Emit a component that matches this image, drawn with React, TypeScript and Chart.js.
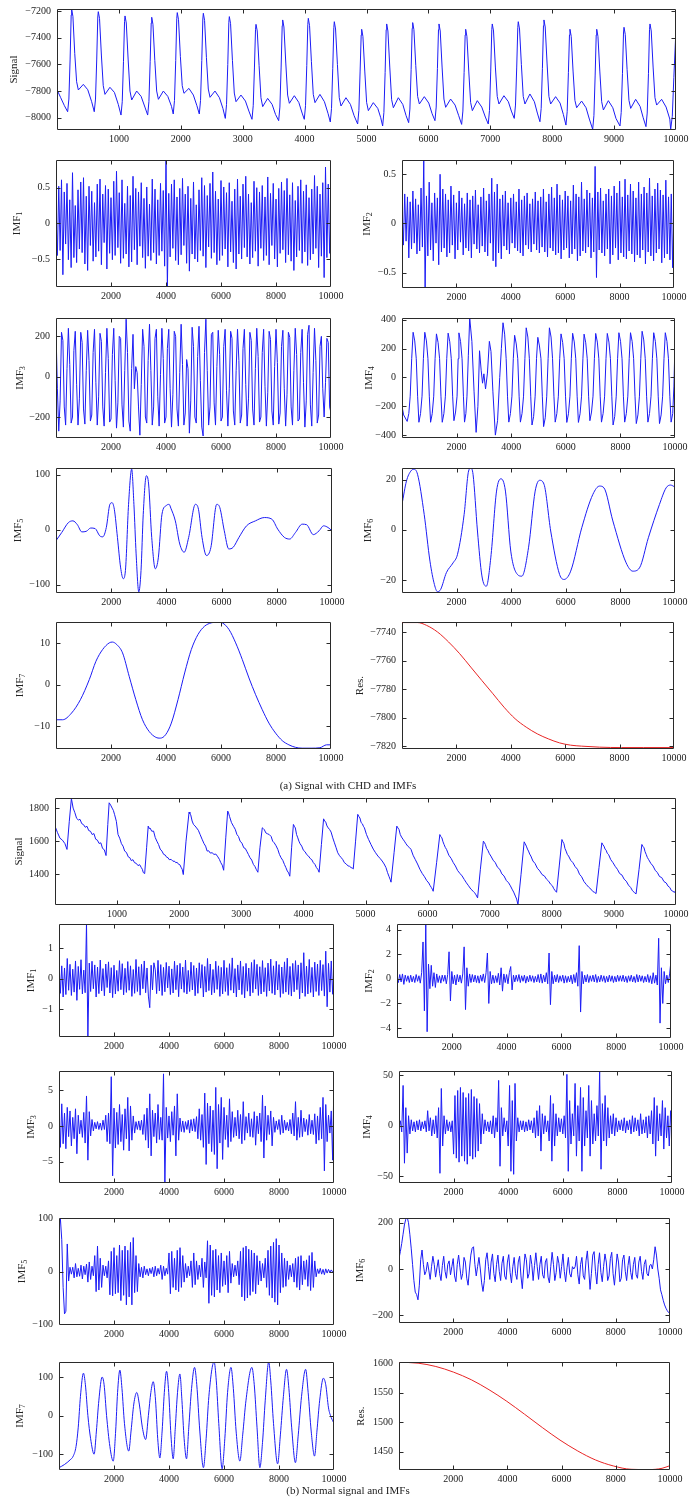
import React, { useEffect, useRef } from "react";
import { Chart, registerables } from "chart.js";
Chart.register(...registerables);

const FONT = '"Liberation Serif", "DejaVu Serif", serif';
const BLUE = "rgb(28,28,245)";
const RED = "rgb(232,36,36)";
const STEP = 50;

// ---------- tick labels ----------
const xTicksSignal = [1000, 2000, 3000, 4000, 5000, 6000, 7000, 8000, 9000, 10000];
const xTicksImf = [2000, 4000, 6000, 8000, 10000];

// ---------- (a) Signal with CHD ----------
const signalA: [number, number][] = [
  [0,-7790],[60,-7850],[120,-7910],
  [172,-7955],[192,-7860],[212,-7560],[229,-7230],[237,-7188],[257,-7240],[287,-7520],[317,-7730],[345,-7792],[425,-7750],[497,-7790],[560,-7880],
  [602,-7955],[622,-7860],[642,-7560],[659,-7245],[667,-7205],[687,-7255],[717,-7530],[747,-7760],[775,-7825],[855,-7772],[927,-7810],[990,-7900],
  [1034,-7980],[1054,-7880],[1074,-7580],[1091,-7280],[1099,-7237],[1119,-7290],[1149,-7560],[1179,-7800],[1207,-7867],[1287,-7800],[1359,-7840],[1420,-7920],
  [1465,-7980],[1485,-7880],[1505,-7580],[1522,-7290],[1530,-7247],[1550,-7300],[1580,-7570],[1610,-7800],[1638,-7862],[1718,-7800],[1790,-7840],[1850,-7915],
  [1878,-7972],[1898,-7870],[1918,-7570],[1935,-7255],[1943,-7212],[1963,-7265],[1993,-7540],[2023,-7760],[2051,-7817],[2131,-7780],[2203,-7830],[2260,-7910],
  [2299,-7972],[2319,-7870],[2339,-7570],[2356,-7260],[2364,-7217],[2384,-7270],[2414,-7550],[2444,-7785],[2472,-7847],[2552,-7800],[2624,-7850],[2680,-7930],
  [2719,-8005],[2739,-7900],[2759,-7600],[2776,-7285],[2784,-7242],[2804,-7295],[2834,-7570],[2864,-7815],[2892,-7880],[2972,-7830],[3044,-7875],[3100,-7950],
  [3150,-8012],[3170,-7910],[3190,-7620],[3207,-7340],[3215,-7300],[3235,-7350],[3265,-7610],[3295,-7850],[3323,-7917],[3403,-7855],[3475,-7900],[3530,-7975],
  [3581,-8022],[3601,-7920],[3621,-7620],[3638,-7310],[3646,-7267],[3666,-7320],[3696,-7590],[3726,-7830],[3754,-7892],[3834,-7835],[3906,-7885],[3960,-7965],
  [3995,-8012],[4015,-7910],[4035,-7610],[4052,-7300],[4060,-7255],[4080,-7310],[4110,-7580],[4140,-7825],[4168,-7887],[4248,-7825],[4320,-7880],[4380,-7970],
  [4415,-8032],[4435,-7930],[4455,-7630],[4472,-7325],[4480,-7280],[4500,-7335],[4530,-7600],[4560,-7850],[4588,-7912],[4668,-7850],[4740,-7900],[4800,-7985],
  [4857,-8047],[4877,-7945],[4897,-7650],[4914,-7380],[4922,-7337],[4942,-7390],[4972,-7650],[5002,-7885],[5030,-7947],[5110,-7887],[5182,-7930],[5230,-8000],
  [5261,-8062],[5281,-7960],[5301,-7660],[5318,-7340],[5326,-7297],[5346,-7350],[5376,-7620],[5406,-7865],[5434,-7925],[5514,-7850],[5586,-7900],[5640,-7985],
  [5681,-8037],[5701,-7935],[5721,-7640],[5738,-7330],[5746,-7287],[5766,-7340],[5796,-7610],[5826,-7840],[5854,-7897],[5934,-7842],[6006,-7890],[6060,-7970],
  [6106,-8022],[6126,-7920],[6146,-7630],[6163,-7340],[6171,-7297],[6191,-7350],[6221,-7620],[6251,-7860],[6279,-7922],[6359,-7860],[6431,-7905],[6490,-7985],
  [6537,-8050],[6557,-7950],[6577,-7660],[6594,-7380],[6602,-7337],[6622,-7390],[6652,-7650],[6682,-7885],[6710,-7947],[6790,-7872],[6862,-7920],[6920,-7995],
  [6967,-8047],[6987,-7945],[7007,-7650],[7024,-7340],[7032,-7297],[7052,-7350],[7082,-7620],[7112,-7840],[7140,-7897],[7220,-7835],[7292,-7880],[7340,-7950],
  [7387,-8005],[7407,-7905],[7427,-7620],[7444,-7325],[7452,-7280],[7472,-7335],[7502,-7600],[7532,-7840],[7560,-7897],[7640,-7822],[7712,-7880],[7760,-7965],
  [7802,-8030],[7822,-7930],[7842,-7630],[7859,-7310],[7867,-7267],[7887,-7320],[7917,-7590],[7947,-7840],[7975,-7897],[8055,-7842],[8127,-7890],[8180,-7975],
  [8222,-8055],[8242,-7955],[8262,-7660],[8279,-7380],[8287,-7337],[8307,-7390],[8337,-7650],[8367,-7870],[8395,-7925],[8475,-7875],[8547,-7925],[8600,-8010],
  [8654,-8087],[8674,-7985],[8694,-7680],[8711,-7380],[8719,-7337],[8739,-7390],[8769,-7650],[8799,-7880],[8827,-7942],[8907,-7872],[8979,-7925],[9030,-8005],
  [9095,-8062],[9115,-7960],[9135,-7670],[9152,-7365],[9160,-7322],[9180,-7375],[9210,-7640],[9240,-7870],[9268,-7930],[9348,-7862],[9420,-7915],[9470,-8000],
  [9515,-8067],[9535,-7965],[9555,-7670],[9572,-7340],[9580,-7297],[9600,-7350],[9630,-7620],[9660,-7850],[9688,-7905],[9768,-7862],[9840,-7920],[9900,-8010],
  [9914,-8087],[9940,-7990],[9965,-7700],[10000,-7330]
];

const imf1A = [
  0.12,-0.45,0.52,-0.38,0.61,-0.72,0.44,-0.29,0.56,-0.51,
  0.33,-0.62,0.71,-0.48,0.25,-0.55,0.47,-0.36,0.58,-0.41,
  0.64,-0.57,0.38,-0.66,0.52,-0.31,0.45,-0.53,0.29,-0.47,
  0.55,-0.39,0.62,-0.58,0.41,-0.27,0.53,-0.64,0.48,-0.42,
  0.36,-0.51,0.59,-0.45,0.73,-0.34,0.43,-0.56,0.61,-0.49,
  0.28,-0.43,0.52,-0.61,0.39,-0.54,0.66,-0.37,0.49,-0.58,
  0.44,-0.32,0.57,-0.48,0.35,-0.63,0.51,-0.46,0.27,-0.52,
  0.62,-0.41,0.48,-0.57,0.33,-0.45,0.56,-0.39,0.46,-0.6,
  0.89,-0.89,0.42,-0.47,0.55,-0.35,0.61,-0.52,0.37,-0.58,
  0.49,-0.44,0.63,-0.31,0.41,-0.56,0.52,-0.67,0.35,-0.43,
  0.58,-0.5,0.26,-0.54,0.47,-0.38,0.64,-0.46,0.53,-0.62,
  0.39,-0.33,0.56,-0.49,0.72,-0.41,0.45,-0.58,0.34,-0.52,
  0.6,-0.45,0.51,-0.36,0.43,-0.61,0.57,-0.4,0.31,-0.55,
  0.48,-0.64,0.62,-0.43,0.38,-0.5,0.55,-0.34,0.66,-0.47,
  0.41,-0.57,0.29,-0.48,0.59,-0.39,0.5,-0.6,0.44,-0.35,
  0.53,-0.52,0.37,-0.45,0.65,-0.58,0.42,-0.31,0.56,-0.5,
  0.34,-0.61,0.49,-0.42,0.58,-0.37,0.46,-0.55,0.63,-0.44,
  0.4,-0.53,0.57,-0.66,0.32,-0.47,0.52,-0.38,0.61,-0.56,
  0.45,-0.4,0.54,-0.59,0.36,-0.51,0.48,-0.43,0.67,-0.35,
  0.52,-0.62,0.41,-0.46,0.57,-0.76,0.79,-0.48,0.55,-0.42,
  0.1
];

const imf2A = [
  0.15,-0.22,0.3,-0.18,0.27,-0.35,0.22,-0.26,0.33,-0.2,
  0.25,-0.31,0.19,-0.28,0.36,-0.24,0.64,-0.66,0.28,-0.33,
  0.42,-0.27,0.21,-0.38,0.31,-0.2,0.26,-0.42,0.5,-0.29,
  0.35,-0.25,0.3,-0.34,0.24,-0.3,0.38,-0.22,0.29,-0.36,
  0.21,-0.27,0.33,-0.19,0.26,-0.32,0.2,-0.25,0.31,-0.28,
  0.24,-0.35,0.28,-0.21,0.34,-0.26,0.19,-0.3,0.27,-0.23,
  0.36,-0.29,0.23,-0.33,0.3,-0.2,0.46,-0.38,0.32,-0.44,
  0.4,-0.3,0.25,-0.36,0.29,-0.23,0.33,-0.27,0.21,-0.31,
  0.26,-0.2,0.3,-0.25,0.22,-0.28,0.35,-0.3,0.24,-0.33,
  0.28,-0.22,0.31,-0.26,0.2,-0.29,0.25,-0.21,0.32,-0.27,
  0.23,-0.3,0.27,-0.24,0.35,-0.29,0.22,-0.34,0.3,-0.25,
  0.37,-0.28,0.26,-0.32,0.4,-0.3,0.29,-0.36,0.24,-0.27,
  0.33,-0.25,0.28,-0.35,0.23,-0.31,0.39,-0.26,0.3,-0.38,
  0.27,-0.33,0.42,-0.28,0.25,-0.3,0.34,-0.24,0.31,-0.35,
  0.26,-0.29,0.58,-0.55,0.32,-0.27,0.36,-0.3,0.23,-0.33,
  0.3,-0.26,0.35,-0.41,0.28,-0.32,0.38,-0.25,0.31,-0.37,
  0.43,-0.3,0.27,-0.34,0.45,-0.36,0.29,-0.28,0.4,-0.31,
  0.33,-0.39,0.26,-0.32,0.42,-0.35,0.3,-0.27,0.37,-0.41,
  0.31,-0.29,0.46,-0.33,0.28,-0.38,0.35,-0.3,0.41,-0.26,
  0.34,-0.4,0.29,-0.35,0.44,-0.31,0.27,-0.37,0.3,-0.45,
  0.12
];

const imf3A = [
  230,-60,-270,-120,220,180,-150,-240,40,240,
  60,-230,-200,130,225,-40,-240,-110,220,170,
  -160,-235,30,230,80,-220,-190,120,235,-30,
  -240,-100,215,175,-150,-245,20,240,90,-225,
  -210,110,240,-20,-255,-130,200,190,-140,-250,
  30,285,120,-220,-270,40,210,-60,50,20,
  -150,-290,-40,235,150,-200,-230,80,260,30,
  -240,-150,190,235,-100,-245,10,240,90,-230,
  -200,140,235,-60,-250,-90,225,200,-160,-245,
  20,260,60,-240,-180,85,40,-280,-120,245,
  150,-200,-230,100,250,-20,-250,-294,120,285,
  30,-240,-150,210,220,-130,-240,50,230,110,
  -220,-200,150,235,-70,-245,-60,225,190,-170,
  -240,30,235,80,-230,-190,140,235,-40,-245,
  -110,220,180,-160,-240,40,240,100,-225,-200,
  120,235,-50,-245,-80,225,185,-170,-240,50,
  235,70,-235,-180,150,230,-60,-245,-90,220,
  195,-150,-240,30,240,110,-220,-210,120,235,
  -30,-250,-120,210,255,-140,-245,20,240,80,
  -230,-190,150,200,-60,-200,-30,190,170,-150,
  -180
];

const imf4A: [number, number][] = [
  [0,-200],[60,-260],[190,-305],[250,-250],[300,-130],[355,130],
  [407,313],[467,253],[522,130],[572,-130],[619,-311],[679,-251],[734,-130],[784,130],
  [835,313],[895,253],[950,130],[1000,-130],[1047,-311],[1107,-251],[1162,-130],[1212,130],
  [1262,302],[1322,242],[1377,130],[1427,-130],[1474,-311],[1534,-251],[1589,-130],[1639,130],
  [1690,307],[1750,247],[1805,130],[1855,-130],[1902,-300],[1962,-240],[2017,-130],[2057,130],
  [2085,309],[2145,249],[2200,130],[2250,-130],[2290,-310],[2340,-250],[2380,-130],[2430,150],
  [2480,412],[2560,250],[2640,-100],[2715,-381],[2780,-200],[2840,185],[2900,50],[2950,-40],[3000,25],[3060,-80],[3130,30],[3200,250],[3260,180],[3330,-100],[3420,-400],[3500,-300],[3580,0],[3640,200],
  [3700,379],[3760,300],[3815,130],[3865,-130],[3912,-310],[3972,-250],[4027,-130],[4077,130],
  [4125,292],[4185,232],[4240,130],[4290,-130],[4337,-310],[4397,-250],[4452,-130],[4502,130],
  [4550,344],[4610,280],[4665,130],[4715,-130],[4762,-330],[4822,-270],[4877,-130],[4927,130],
  [4975,278],[5035,218],[5090,130],[5140,-130],[5187,-341],[5247,-280],[5302,-130],[5352,130],
  [5400,344],[5460,280],[5515,130],[5565,-130],[5612,-310],[5672,-250],[5727,-130],[5777,130],
  [5825,302],[5885,242],[5940,130],[5990,-130],[6037,-312],[6097,-252],[6152,-130],[6202,130],
  [6250,306],[6310,246],[6365,130],[6415,-130],[6462,-312],[6522,-252],[6577,-130],[6627,130],
  [6670,300],[6730,240],[6785,130],[6835,-130],[6882,-300],[6942,-240],[6997,-130],[7047,130],
  [7095,305],[7155,245],[7210,130],[7260,-130],[7307,-310],[7367,-250],[7422,-130],[7472,130],
  [7520,305],[7580,245],[7635,130],[7685,-130],[7732,-330],[7792,-270],[7847,-130],[7897,130],
  [7945,310],[8005,250],[8060,130],[8110,-130],[8157,-310],[8217,-250],[8272,-130],[8322,130],
  [8370,310],[8430,250],[8485,130],[8535,-130],[8582,-320],[8642,-260],[8697,-130],[8747,130],
  [8795,320],[8855,260],[8910,130],[8960,-130],[9007,-310],[9067,-250],[9122,-130],[9172,130],
  [9220,310],[9280,250],[9335,130],[9385,-130],[9432,-320],[9492,-260],[9547,-130],[9597,130],
  [9645,310],[9705,250],[9760,130],[9810,-130],[9857,-310],[9917,-250],[9960,-60],[10000,250]
];

const imf5A: [number, number][] = [
  [0,-20],[210,-5],[452,13],[613,16],[774,9],[936,-4],[1097,-3],[1258,3],[1419,2],[1581,-11],[1694,-13],[1823,4],
  [1952,46],[2032,49],[2113,37],[2226,-14],[2339,-68],[2436,-89],[2516,-74],[2629,46],[2742,110],[2823,46],[2903,-44],
  [3000,-113],[3081,-74],[3161,28],[3274,98],[3355,83],[3468,-14],[3597,-71],[3710,-50],[3839,28],[4000,44],[4100,46],
  [4162,39],[4323,16],[4484,-26],[4645,-41],[4807,-14],[5049,46],[5162,37],[5291,-14],[5452,-47],[5613,-32],[5823,46],
  [5936,40],[6097,-2],[6258,-35],[6420,-32],[6629,-14],[6904,7],[7226,16],[7549,22],[7823,19],[8033,1],[8275,-14],
  [8468,-17],[8678,-5],[8920,10],[9081,9],[9323,-9],[9533,-2],[9694,7],[9855,4],[10000,-2]
];

const imf6A: [number, number][] = [
  [0,10.1],[163,19.4],[325,23.4],[439,24.1],[569,22.1],[813,6.1],[1024,-12.5],[1187,-21.8],[1301,-24.7],[1415,-23.8],
  [1626,-17.1],[1870,-13.2],[2033,-9.8],[2276,6.1],[2439,23.4],[2520,24.5],[2602,22.1],[2764,-0.5],[2927,-18.4],[3089,-22.5],
  [3252,-11.2],[3463,15.4],[3626,20.3],[3789,15.4],[3984,-8.5],[4228,-17.8],[4390,-18.5],[4634,-7.2],[4878,15.4],[5041,19.7],
  [5203,18.1],[5447,-0.5],[5772,-17.8],[5935,-19.8],[6179,-16.5],[6585,0.8],[6992,14.1],[7236,17.4],[7398,16.7],[7724,3.5],
  [8211,-13.2],[8455,-16.5],[8699,-15.2],[9024,-3.2],[9431,10.1],[9675,16.7],[9837,17.8],[10000,17.0]
];

const imf7A: [number, number][] = [
  [0,-8.4],[242,-8.4],[565,-6.8],[887,-3.6],[1210,1.2],[1452,5.6],[1694,8.4],[1936,10.0],[2048,10.2],[2210,9.6],
  [2420,7.6],[2661,2.0],[2903,-3.6],[3145,-8.4],[3387,-11.2],[3629,-12.6],[3790,-12.8],[3984,-12.0],[4194,-9.2],[4436,-3.6],
  [4678,2.8],[4920,8.4],[5162,12.0],[5404,14.0],[5646,14.8],[5888,15.0],[6049,14.8],[6291,13.2],[6533,10.0],[6775,6.0],
  [7017,1.6],[7259,-2.4],[7501,-6.0],[7743,-9.2],[7985,-11.6],[8227,-13.4],[8468,-14.4],[8710,-15.0],[8952,-15.2],[9275,-15.2],
  [9597,-15.1],[9839,-14.4],[10000,-14.4]
];

const resA: [number, number][] = [
  [0,-7733.4],[571,-7733.4],[897,-7735.3],[1305,-7740],[1713,-7747],[2120,-7755.2],[2528,-7764.6],[2936,-7774],[3344,-7783.3],
  [3751,-7792.7],[4159,-7800.8],[4567,-7806.7],[4975,-7811.4],[5382,-7814.9],[5790,-7817.7],[6198,-7819.3],[6606,-7820],
  [7258,-7820.7],[8073,-7821],[8889,-7821],[10000,-7821]
];

// ---------- (b) Normal signal ----------
const signalB: [number, number][] = [
  [0,1691],[40,1652],[80,1618],[120,1606],[160,1585],[193,1550],
  [230,1720],[264,1858],[292,1800],[320,1772],[348,1738],[376,1728],[403,1732],[431,1706],[459,1700],[487,1684],[515,1690],[543,1664],[571,1660],[599,1640],[627,1646],[655,1612],[683,1606],[710,1586],[738,1590],[766,1556],[794,1548],[822,1513],
  [850,1700],[872,1832],[896,1818],[920,1800],[940,1786],[960,1760],[988,1720],[1015,1640],[1042,1618],[1070,1585],[1096,1570],[1122,1540],[1150,1532],[1180,1505],[1205,1500],[1229,1482],[1255,1488],[1280,1470],[1308,1466],[1337,1452],[1363,1458],[1390,1440],[1406,1430],[1422,1410],[1444,1404],
  [1475,1560],[1501,1691],[1515,1676],[1530,1680],[1558,1660],[1587,1661],[1614,1622],[1640,1600],[1667,1580],[1694,1552],[1722,1540],[1750,1520],[1775,1516],[1800,1502],[1820,1500],[1840,1488],[1870,1490],[1900,1478],[1922,1480],[1944,1470],[1967,1472],[1990,1460],[2010,1458],[2030,1442],[2048,1430],[2066,1398],
  [2110,1600],[2159,1776],[2172,1765],[2185,1760],[2208,1722],[2230,1701],[2255,1692],[2280,1680],[2308,1666],[2337,1640],[2368,1612],[2400,1585],[2425,1570],[2450,1540],[2475,1542],[2500,1528],[2530,1530],[2560,1520],[2590,1522],[2623,1505],[2647,1490],[2670,1470],[2693,1455],[2716,1424],
  [2750,1620],[2781,1782],[2795,1770],[2810,1750],[2842,1712],[2874,1690],[2902,1672],[2930,1640],[2955,1628],[2981,1600],[3010,1588],[3040,1560],[3064,1556],[3088,1539],[3114,1520],[3140,1500],[3168,1486],[3195,1459],[3218,1448],[3240,1430],[3267,1412],
  [3300,1560],[3338,1681],[3354,1676],[3370,1670],[3395,1650],[3420,1645],[3450,1640],[3481,1628],[3505,1600],[3530,1590],[3560,1572],[3588,1550],[3614,1520],[3640,1500],[3668,1484],[3695,1459],[3718,1440],[3740,1420],[3762,1408],[3781,1388],
  [3810,1560],[3839,1701],[3855,1690],[3870,1680],[3890,1640],[3910,1620],[3928,1600],[3946,1585],[3973,1570],[4000,1545],[4027,1536],[4053,1519],[4082,1510],[4110,1495],[4135,1488],[4160,1470],[4185,1460],[4210,1440],[4232,1430],[4253,1412],
  [4290,1580],[4325,1735],[4343,1722],[4360,1715],[4380,1692],[4400,1680],[4423,1670],[4446,1655],[4473,1620],[4500,1590],[4527,1560],[4553,1530],[4582,1512],[4610,1500],[4635,1488],[4660,1470],[4690,1462],[4720,1450],[4744,1448],[4768,1440],[4786,1438],[4803,1432],
  [4840,1600],[4875,1762],[4892,1750],[4910,1740],[4930,1712],[4950,1705],[4966,1690],[4982,1681],[5016,1640],[5050,1610],[5088,1580],[5125,1552],[5162,1530],[5200,1510],[5234,1496],[5268,1480],[5300,1462],[5330,1440],[5355,1410],[5380,1385],[5396,1370],[5411,1352],
  [5460,1530],[5504,1691],[5522,1680],[5540,1670],[5560,1640],[5580,1625],[5603,1612],[5626,1600],[5653,1584],[5680,1570],[5706,1562],[5733,1550],[5766,1515],[5800,1490],[5838,1462],[5876,1430],[5913,1405],[5950,1385],[5985,1362],[6019,1347],[6040,1332],[6060,1320],[6075,1310],[6090,1297],
  [6145,1470],[6197,1640],[6213,1628],[6230,1620],[6248,1596],[6265,1580],[6285,1562],[6305,1550],[6342,1515],[6380,1495],[6414,1470],[6448,1450],[6484,1422],[6520,1405],[6555,1390],[6591,1368],[6625,1348],[6660,1330],[6697,1310],[6734,1297],[6757,1288],[6780,1275],[6805,1257],
  [6850,1430],[6898,1600],[6914,1592],[6930,1580],[6950,1556],[6970,1545],[6995,1524],[7019,1510],[7055,1485],[7090,1470],[7126,1442],[7162,1430],[7196,1402],[7230,1390],[7268,1362],[7305,1348],[7333,1330],[7360,1310],[7386,1292],[7413,1268],[7434,1250],[7455,1216],
  [7505,1400],[7555,1596],[7572,1584],[7590,1570],[7608,1552],[7625,1540],[7644,1522],[7663,1510],[7696,1480],[7730,1465],[7768,1436],[7806,1420],[7843,1398],[7880,1390],[7915,1370],[7949,1358],[7980,1340],[8010,1330],[8033,1312],[8056,1300],[8077,1291],
  [8120,1450],[8163,1610],[8179,1596],[8195,1585],[8212,1556],[8230,1540],[8250,1520],[8270,1510],[8305,1484],[8340,1470],[8376,1446],[8413,1430],[8446,1400],[8480,1385],[8518,1356],[8556,1338],[8593,1322],[8630,1310],[8660,1296],[8690,1290],[8713,1283],
  [8760,1440],[8806,1590],[8823,1578],[8840,1570],[8858,1552],[8875,1545],[8894,1526],[8913,1520],[8950,1488],[8985,1470],[9020,1448],[9056,1430],[9093,1404],[9130,1395],[9165,1370],[9199,1358],[9235,1334],[9270,1320],[9300,1300],[9328,1290],[9357,1281],
  [9405,1430],[9450,1580],[9468,1568],[9485,1560],[9502,1536],[9520,1520],[9538,1502],[9557,1490],[9594,1466],[9630,1450],[9665,1424],[9700,1410],[9735,1386],[9770,1380],[9806,1356],[9843,1347],[9872,1328],[9900,1320],[9925,1302],[9950,1297],[9975,1290],[10000,1307]
];

const imf1B = [
  0.55,-0.48,0.42,-0.6,0.35,-0.52,0.66,-0.38,0.47,-0.55,
  0.31,-0.44,0.58,-0.71,0.4,-0.35,0.62,-0.5,0.28,-0.46,
  1.8,-1.9,0.51,-0.42,0.57,-0.33,0.45,-0.6,0.38,-0.49,
  0.61,-0.4,0.33,-0.56,0.48,-0.29,0.55,-0.47,0.36,-0.62,
  0.44,-0.5,0.27,-0.41,0.59,-0.36,0.49,-0.53,0.34,-0.45,
  0.56,-0.38,0.42,-0.58,0.3,-0.48,0.63,-0.42,0.39,-0.54,
  0.47,-0.33,0.58,-0.46,0.35,-0.57,-0.95,0.44,-0.37,0.52,
  0.29,-0.49,0.6,-0.4,0.46,-0.55,0.37,-0.43,0.53,-0.3,
  0.41,-0.52,0.32,-0.47,0.57,-0.36,0.44,-0.59,0.5,-0.34,
  0.38,-0.45,0.61,-0.5,0.27,-0.42,0.54,-0.37,0.43,-0.56,
  0.35,-0.48,0.52,-0.31,0.46,-0.6,0.4,-0.44,0.66,-0.39,
  0.48,-0.53,0.3,-0.46,0.57,-0.35,0.42,-0.58,0.37,-0.5,
  0.6,-0.42,0.36,-0.55,0.49,-0.38,0.68,-0.47,0.33,-0.6,
  0.45,-0.37,0.58,-0.52,0.4,-0.63,0.5,-0.41,0.35,-0.57,
  0.53,-0.46,0.62,-0.34,0.47,-0.55,0.39,-0.5,0.59,-0.43,
  0.36,-0.58,0.51,-0.4,0.64,-0.48,0.42,-0.53,0.57,-0.37,
  0.46,-0.61,0.38,-0.49,0.55,-0.44,0.67,-0.52,0.4,-0.57,
  0.5,-0.43,0.59,-0.36,0.45,-0.66,0.52,-0.47,0.85,-0.58,
  0.41,-0.5,0.63,-0.45,0.37,-0.6,0.54,-0.42,0.48,-0.55,
  0.6,-0.39,0.46,-0.57,0.9,-0.92,0.5,-0.44,0.58,-0.51,
  0.3
];

const imf2B = [
  0.2,-0.3,0.35,-0.25,0.4,-0.45,0.3,-0.2,0.25,-0.3,
  0.3,-0.25,0.2,-0.3,0.35,-0.2,0.25,-0.35,0.5,3.0,
  -2.6,4.46,-4.3,1.2,-0.8,1.1,-0.6,0.5,-0.7,0.4,
  -0.3,0.25,-0.35,0.3,-0.2,0.3,-0.4,0.35,2.2,-1.8,
  0.6,-0.4,0.3,-0.5,0.35,-0.25,0.3,-0.35,0.4,2.6,
  -2.5,0.9,-0.6,0.4,-0.3,0.35,-0.25,0.3,-0.3,0.25,
  -0.35,0.3,-0.2,0.4,-0.3,0.5,2.1,-2.0,0.6,-0.4,
  0.3,-0.35,0.25,-0.3,0.45,-0.5,0.9,-1.0,0.4,-0.3,
  0.35,-0.4,0.5,1.0,-0.9,0.3,-0.25,0.3,-0.2,0.35,
  -0.3,0.25,-0.2,0.3,-0.35,0.2,-0.25,0.3,-0.2,0.25,
  -0.3,0.2,-0.25,0.35,-0.3,0.4,-0.35,0.3,-0.25,0.5,
  -0.4,2.1,-2.1,0.6,-0.4,0.3,-0.25,0.35,-0.3,0.25,
  -0.2,0.3,-0.35,0.25,-0.3,0.2,-0.25,0.3,-0.4,0.35,
  -0.3,0.5,-0.6,2.7,-2.7,0.6,-0.4,0.3,-0.25,0.35,
  -0.3,0.25,-0.2,0.3,-0.25,0.35,-0.3,0.2,-0.25,0.3,
  -0.2,0.25,-0.3,0.2,-0.25,0.3,-0.2,0.25,-0.3,0.2,
  -0.25,0.3,-0.2,0.25,-0.2,0.3,-0.25,0.2,-0.3,0.25,
  -0.2,0.3,-0.25,0.2,-0.3,0.35,-0.25,0.3,-0.2,0.25,
  -0.3,0.2,-0.25,0.35,-0.3,0.25,-0.4,0.5,-0.35,0.3,
  -0.5,3.3,-3.6,0.9,-2.0,0.6,-0.4,0.3,-0.3,0.4,
  1.5
];

const imf3B = [
  2.0,-3.0,3.1,-2.5,1.8,-3.2,2.6,-1.5,2.1,-2.8,
  1.2,-1.8,2.4,-3.9,1.5,-1.1,0.8,-1.6,1.9,-2.4,
  4.2,-4.8,2.0,-1.4,0.9,-0.7,0.5,-0.4,0.6,-0.5,
  0.4,-0.6,0.8,-0.5,1.5,-2.2,1.8,-2.5,6.9,-7.0,
  2.5,-3.1,1.9,-2.6,3.0,-2.2,1.6,-3.4,2.4,-1.8,
  4.0,-3.5,2.8,-2.0,1.4,-1.0,0.6,-0.5,0.7,-0.6,
  0.8,-1.2,1.6,-2.0,2.5,-3.1,4.5,-4.2,2.2,-1.5,
  1.8,-2.4,3.0,-1.9,1.2,-2.0,7.3,-8.0,2.6,-1.7,
  1.4,-2.2,2.0,-1.3,2.8,-4.2,4.5,-2.0,1.1,-0.8,
  0.7,-0.9,0.6,-0.5,0.8,-1.0,0.9,-0.7,1.0,-0.8,
  1.3,-1.8,2.4,-2.0,1.6,-3.0,4.6,-5.4,3.2,-2.5,
  2.8,-3.6,2.2,-4.0,5.4,-6.0,3.0,-2.4,4.0,-4.7,
  2.6,-1.9,1.5,-3.0,3.8,-2.2,2.0,-1.6,1.2,-1.4,
  2.2,-1.8,1.6,-2.5,3.4,-2.0,1.3,-1.0,1.8,-1.5,
  1.0,-1.6,2.0,-2.7,1.4,-1.1,1.8,-2.2,4.3,-4.5,
  2.8,-2.0,1.5,-1.2,2.1,-2.8,1.2,-0.9,0.7,-0.5,
  0.9,-1.2,1.5,-1.0,0.8,-0.6,0.5,-0.7,0.9,-1.1,
  1.8,-1.4,3.4,-2.0,1.2,-1.6,2.2,-1.5,1.1,-0.8,
  0.9,-1.3,1.6,-1.1,0.8,-1.2,1.7,-2.5,1.4,-2.0,
  2.6,-1.8,4.0,-6.3,3.0,-2.2,1.5,-1.0,2.1,-4.8,
  7.3
];

const imf4B = [
  -3,5,-6,40,-37,18,-27,10,-8,6,
  -5,4,-6,5,-4,6,-5,4,-3,5,
  -6,15,-5,8,-10,6,-8,10,-12,18,
  -47,37,-20,10,-8,6,-5,4,-6,5,
  -28,30,-32,35,-36,38,-30,33,-35,28,
  -38,32,-30,36,-33,29,-31,27,-25,22,
  -18,12,-8,6,-5,4,-6,5,-8,10,
  -12,8,-6,45,-40,18,-10,8,-6,5,
  -20,40,-45,25,-48,42,-15,8,-6,5,
  -4,5,-6,4,-5,6,-4,5,-7,8,
  -12,15,-10,20,-25,12,-8,10,-6,5,
  -15,30,-35,22,-20,12,-10,8,-6,7,
  -8,10,-12,51,-45,25,-18,12,-10,42,
  -30,20,-15,38,-45,28,-20,15,-12,40,
  -30,25,-18,12,-15,20,-10,54,-43,22,
  -15,30,-20,18,-12,10,-8,12,-10,8,
  -6,5,-4,6,-5,8,-7,5,-4,6,
  -8,10,-6,8,-5,6,-10,12,-8,6,
  -7,9,-12,10,-8,15,-18,28,-30,20,
  -15,12,-10,25,-23,18,-12,10,-20,15,
  -8
];

const imf5B = [
  83,100,60,-30,-80,-75,52,-18,8,-5,
  8,-12,15,-10,6,-9,12,-14,10,-6,
  14,-20,18,-15,10,-8,30,-38,48,-35,
  25,-30,12,-8,10,-12,20,-44,38,-46,
  45,-42,30,-40,50,-55,40,-45,48,-63,
  40,-48,55,-63,64,-40,30,-38,15,-10,
  8,-12,10,-6,5,-8,6,-4,8,-10,
  10,-8,6,-5,12,-15,10,-8,6,-5,
  35,-42,38,-30,25,-35,40,-38,45,-30,
  30,-20,15,-12,10,-8,20,-30,35,-25,
  20,-15,12,-10,25,-30,18,-12,58,-60,
  50,-45,40,-48,42,-35,30,-40,35,-28,
  20,-25,30,-40,38,-22,15,-10,12,-8,
  20,-25,38,-48,45,-55,48,-50,42,-45,
  40,-38,35,-42,30,-25,20,-18,15,-12,
  25,-30,40,-45,48,-50,55,-58,62,-63,
  50,-40,35,-30,25,-28,20,-15,12,-10,
  15,-20,25,-30,28,-35,30,-25,20,-15,
  22,-28,30,-36,36,-30,20,-10,5,-4,
  6,-5,4,-6,5,-3,4,-2,3,-1,
  0
];

const imf6B = [
  46,75,110,150,190,215,224,200,150,90,
  20,-50,-100,-110,-133,-70,40,82,20,-25,
  -10,30,-5,-45,10,55,20,-35,5,40,
  -20,-50,15,55,-10,-40,20,35,-25,10,
  45,-30,-55,20,60,5,-45,-20,50,30,
  -40,-70,0,60,90,96,20,-30,10,50,
  0,-60,-97,-50,40,70,10,-45,30,65,
  -20,-55,20,60,-10,-50,25,55,-30,-45,
  30,62,-15,-60,10,50,-20,-45,30,55,
  -30,-85,0,65,40,-40,-20,60,20,-50,
  15,70,10,-45,20,55,-25,-40,30,45,
  -35,-60,10,72,20,-50,-15,55,25,-40,
  10,65,-10,-55,5,50,-20,-35,10,0,
  10,55,-25,-65,20,50,-30,-45,35,78,
  0,-88,-20,60,75,-10,-65,20,70,-15,
  -55,10,65,30,-50,-30,45,72,-20,-70,
  0,65,30,-55,-40,40,60,-10,-50,15,
  55,-15,-45,20,50,-25,-40,30,55,-10,
  -45,20,40,-20,-30,15,20,0,40,96,
  60,0,-40,-90,-111,-135,-155,-169,-180,-188,
  -190
];

const imf7B: [number, number][] = [
  [0,-135],[194,-127],[400,-115],[517,-105],[620,-80],[700,-30],[780,50],[889,110],[960,80],[1050,0],[1150,-60],
  [1277,-100],[1360,-40],[1450,40],[1568,100],[1640,80],[1730,0],[1850,-80],[1972,-118],[2060,-40],[2130,60],
  [2214,118],[2290,70],[2380,-20],[2537,-92],[2620,-40],[2720,30],[2828,60],[2920,30],[3030,-30],[3151,-62],
  [3250,0],[3340,60],[3426,88],[3510,40],[3590,-60],[3668,-110],[3750,-40],[3830,60],[3911,115],[3990,60],
  [4070,-50],[4153,-112],[4230,-30],[4310,60],[4396,108],[4470,40],[4550,-60],[4638,-112],[4720,-30],[4820,70],
  [4929,125],[5010,80],[5120,-40],[5252,-135],[5350,-60],[5450,50],[5640,140],[5720,90],[5810,-20],[5931,-138],
  [6030,-60],[6130,60],[6254,125],[6340,70],[6440,-40],[6577,-118],[6680,-50],[6800,40],[7013,125],[7100,80],
  [7200,-30],[7304,-135],[7400,-70],[7500,40],[7627,140],[7700,90],[7800,-20],[7950,-125],[8050,-50],[8160,50],
  [8273,120],[8360,70],[8460,-30],[8597,-122],[8700,-50],[8820,50],[8968,120],[9060,60],[9170,-40],[9292,-105],
  [9380,-40],[9480,40],[9614,97],[9700,80],[9800,20],[9900,-5],[10000,-20]
];

const resB: [number, number][] = [
  [0,1601.7],[704,1600],[1359,1594.4],[2013,1584.8],[2668,1571.9],[3323,1555],[3978,1535.4],[4633,1513.5],
  [5287,1491],[5942,1469.7],[6597,1451.2],[7252,1436],[7907,1425.9],[8561,1420.2],[9216,1419.7],[9707,1421.9],[10000,1426.4]
];

// ---------- helpers ----------
const fromUniform = (vals: number[]): [number, number][] => vals.map((v, i) => [i * STEP, v]);

const fmt = (v: number) => (v < 0 ? "\u2212" + String(Math.abs(v)) : String(v));

type Spec = {
  key: string;
  left: number; top: number; right: number; bottom: number;
  yMin: number; yMax: number; yTicks: number[]; xTicks: number[];
  label: string; sub?: string; offset: number;
  color: string; points: [number, number][]; smooth?: boolean;
};

const framePlugin = {
  id: "frame",
  afterDraw(chart: any, _args: any, opts: any) {
    const { ctx, chartArea: a } = chart;
    const xs = chart.scales.x;
    const ys = chart.scales.y;
    ctx.save();
    ctx.strokeStyle = "#2a2a2a";
    ctx.lineWidth = 1;
    const l = Math.round(a.left) + 0.5;
    const r = Math.round(a.right) - 0.5;
    const t = Math.round(a.top) + 0.5;
    const b = Math.round(a.bottom) - 0.5;
    ctx.beginPath();
    ctx.rect(l, t, r - l, b - t);
    const tl = 4;
    for (const tk of xs.ticks) {
      const p = Math.round(xs.getPixelForValue(tk.value)) + 0.5;
      if (p <= l + 1 || p >= r - 1) continue;
      ctx.moveTo(p, b); ctx.lineTo(p, b - tl);
      ctx.moveTo(p, t); ctx.lineTo(p, t + tl);
    }
    for (const tk of ys.ticks) {
      const p = Math.round(ys.getPixelForValue(tk.value)) + 0.5;
      if (p <= t + 1 || p >= b - 1) continue;
      ctx.moveTo(l, p); ctx.lineTo(l + tl, p);
      ctx.moveTo(r, p); ctx.lineTo(r - tl, p);
    }
    ctx.stroke();

    const cx = a.left - opts.offset;
    const cy = (a.top + a.bottom) / 2;
    ctx.translate(cx, cy);
    ctx.rotate(-Math.PI / 2);
    ctx.fillStyle = "#222";
    ctx.textBaseline = "middle";
    ctx.textAlign = "left";
    ctx.font = `11px ${FONT}`;
    const mainW = ctx.measureText(opts.label).width;
    let subW = 0;
    if (opts.sub) {
      ctx.font = `8px ${FONT}`;
      subW = ctx.measureText(opts.sub).width;
    }
    const start = -(mainW + subW) / 2;
    ctx.font = `11px ${FONT}`;
    ctx.fillText(opts.label, start, 0);
    if (opts.sub) {
      ctx.font = `8px ${FONT}`;
      ctx.fillText(opts.sub, start + mainW, 3);
    }
    ctx.restore();
  },
};

const L = 64, R = 24, T = 9, B = 18;

function Panel({ spec }: { spec: Spec }) {
  const ref = useRef<HTMLCanvasElement>(null);
  const w = spec.right - spec.left + L + R;
  const h = spec.bottom - spec.top + T + B;
  useEffect(() => {
    const canvas = ref.current;
    if (!canvas) return;
    const chart = new Chart(canvas, {
      type: "line",
      data: {
        datasets: [
          {
            data: spec.points.map(([x, y]) => ({ x, y })),
            borderColor: spec.color,
            borderWidth: 1,
            pointRadius: 0,
            tension: 0,
            cubicInterpolationMode: spec.smooth ? "monotone" : "default",
            fill: false,
          },
        ],
      },
      options: {
        animation: false,
        responsive: false,
        maintainAspectRatio: false,
        events: [],
        layout: { padding: { left: 0, right: R, top: T, bottom: 0 } },
        plugins: {
          legend: { display: false },
          tooltip: { enabled: false },
          frame: { label: spec.label, sub: spec.sub, offset: spec.offset },
        } as any,
        scales: {
          x: {
            type: "linear",
            min: 0,
            max: 10000,
            grid: { display: false, drawTicks: false },
            border: { display: false },
            ticks: {
              font: { family: FONT, size: 10 },
              color: "#222",
              padding: 3,
              autoSkip: false,
              maxRotation: 0,
              minRotation: 0,
              callback: (v: any) => fmt(Number(v)),
            },
            afterBuildTicks: (s: any) => {
              s.ticks = spec.xTicks.map((v) => ({ value: v }));
            },
            afterFit: (s: any) => {
              s.height = B;
              s.paddingLeft = 0;
              s.paddingRight = 0;
            },
          },
          y: {
            type: "linear",
            min: spec.yMin,
            max: spec.yMax,
            grid: { display: false, drawTicks: false },
            border: { display: false },
            ticks: {
              font: { family: FONT, size: 10 },
              color: "#222",
              padding: 6,
              autoSkip: false,
              callback: (v: any) => fmt(Number(v)),
            },
            afterBuildTicks: (s: any) => {
              s.ticks = spec.yTicks.map((v) => ({ value: v }));
            },
            afterFit: (s: any) => {
              s.width = L;
              s.paddingTop = 0;
              s.paddingBottom = 0;
            },
          },
        },
      } as any,
      plugins: [framePlugin as any],
    });
    return () => chart.destroy();
  }, [spec]);
  return (
    <canvas
      ref={ref}
      width={w}
      height={h}
      style={{ position: "absolute", left: spec.left - L, top: spec.top - T, width: w, height: h }}
    />
  );
}

const SPECS: Spec[] = [
  { key: "sigA", left: 57, top: 9, right: 676, bottom: 130, yMin: -8092, yMax: -7185, yTicks: [-8000, -7800, -7600, -7400, -7200], xTicks: xTicksSignal, label: "Signal", offset: 43, color: BLUE, points: signalA },
  { key: "imf1A", left: 56, top: 160, right: 331, bottom: 287, yMin: -0.892, yMax: 0.888, yTicks: [-0.5, 0, 0.5], xTicks: xTicksImf, label: "IMF", sub: "1", offset: 39, color: BLUE, points: fromUniform(imf1A) },
  { key: "imf2A", left: 402, top: 160, right: 674, bottom: 288, yMin: -0.656, yMax: 0.645, yTicks: [-0.5, 0, 0.5], xTicks: xTicksImf, label: "IMF", sub: "2", offset: 35, color: BLUE, points: fromUniform(imf2A) },
  { key: "imf3A", left: 56, top: 318, right: 331, bottom: 438, yMin: -304, yMax: 291, yTicks: [-200, 0, 200], xTicks: xTicksImf, label: "IMF", sub: "3", offset: 36, color: BLUE, points: fromUniform(imf3A) },
  { key: "imf4A", left: 402, top: 318, right: 675, bottom: 438, yMin: -420, yMax: 412, yTicks: [-400, -200, 0, 200, 400], xTicks: xTicksImf, label: "IMF", sub: "4", offset: 33, color: BLUE, points: imf4A },
  { key: "imf5A", left: 56, top: 468, right: 332, bottom: 593, yMin: -115, yMax: 112, yTicks: [-100, 0, 100], xTicks: xTicksImf, label: "IMF", sub: "5", offset: 38, color: BLUE, points: imf5A, smooth: true },
  { key: "imf6A", left: 402, top: 468, right: 675, bottom: 593, yMin: -25.2, yMax: 24.6, yTicks: [-20, 0, 20], xTicks: xTicksImf, label: "IMF", sub: "6", offset: 34, color: BLUE, points: imf6A, smooth: true },
  { key: "imf7A", left: 56, top: 622, right: 331, bottom: 749, yMin: -15.4, yMax: 15.0, yTicks: [-10, 0, 10], xTicks: xTicksImf, label: "IMF", sub: "7", offset: 36, color: BLUE, points: imf7A, smooth: true },
  { key: "resA", left: 402, top: 622, right: 674, bottom: 749, yMin: -7822, yMax: -7733, yTicks: [-7820, -7800, -7780, -7760, -7740], xTicks: xTicksImf, label: "Res.", offset: 42, color: RED, points: resA, smooth: true },
  { key: "sigB", left: 55, top: 798, right: 676, bottom: 905, yMin: 1214, yMax: 1861, yTicks: [1400, 1600, 1800], xTicks: xTicksSignal, label: "Signal", offset: 36, color: BLUE, points: signalB },
  { key: "imf1B", left: 59, top: 924, right: 334, bottom: 1037, yMin: -1.91, yMax: 1.79, yTicks: [-1, 0, 1], xTicks: xTicksImf, label: "IMF", sub: "1", offset: 28, color: BLUE, points: fromUniform(imf1B) },
  { key: "imf2B", left: 397, top: 924, right: 671, bottom: 1038, yMin: -4.81, yMax: 4.46, yTicks: [-4, -2, 0, 2, 4], xTicks: xTicksImf, label: "IMF", sub: "2", offset: 28, color: BLUE, points: fromUniform(imf2B) },
  { key: "imf3B", left: 59, top: 1071, right: 334, bottom: 1183, yMin: -8.0, yMax: 7.7, yTicks: [-5, 0, 5], xTicks: xTicksImf, label: "IMF", sub: "3", offset: 28, color: BLUE, points: fromUniform(imf3B) },
  { key: "imf4B", left: 399, top: 1071, right: 672, bottom: 1183, yMin: -56.6, yMax: 54.3, yTicks: [-50, 0, 50], xTicks: xTicksImf, label: "IMF", sub: "4", offset: 32, color: BLUE, points: fromUniform(imf4B) },
  { key: "imf5B", left: 59, top: 1218, right: 334, bottom: 1325, yMin: -101, yMax: 101, yTicks: [-100, 0, 100], xTicks: xTicksImf, label: "IMF", sub: "5", offset: 37, color: BLUE, points: fromUniform(imf5B) },
  { key: "imf6B", left: 399, top: 1218, right: 670, bottom: 1323, yMin: -233, yMax: 220, yTicks: [-200, 0, 200], xTicks: xTicksImf, label: "IMF", sub: "6", offset: 39, color: BLUE, points: fromUniform(imf6B) },
  { key: "imf7B", left: 59, top: 1362, right: 334, bottom: 1470, yMin: -141, yMax: 139, yTicks: [-100, 0, 100], xTicks: xTicksImf, label: "IMF", sub: "7", offset: 39, color: BLUE, points: imf7B, smooth: true },
  { key: "resB", left: 399, top: 1362, right: 670, bottom: 1470, yMin: 1419, yMax: 1602, yTicks: [1450, 1500, 1550, 1600], xTicks: xTicksImf, label: "Res.", offset: 38, color: RED, points: resB, smooth: true },
];

const captionStyle = (cy: number): React.CSSProperties => ({
  position: "absolute",
  left: 0,
  top: cy - 7,
  width: 696,
  textAlign: "center",
  fontFamily: FONT,
  fontSize: 11,
  lineHeight: "14px",
  color: "#222",
});

export default function App() {
  return (
    <div style={{ position: "absolute", left: 0, top: 0, width: 696, height: 1511, background: "#fff", overflow: "hidden" }}>
      {SPECS.map((s) => (
        <Panel key={s.key} spec={s} />
      ))}
      <div style={captionStyle(785)}>(a) Signal with CHD and IMFs</div>
      <div style={captionStyle(1490)}>(b) Normal signal and IMFs</div>
    </div>
  );
}
